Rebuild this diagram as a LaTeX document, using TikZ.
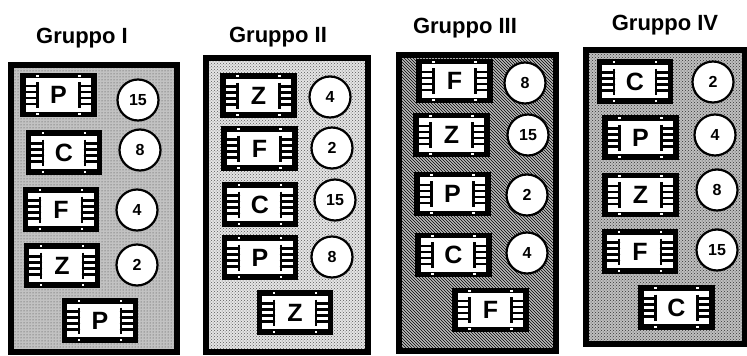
\documentclass[tikz,border=0pt]{standalone}
\usepackage{fontspec}
\newfontfamily\hv{Liberation Sans}
\usetikzlibrary{patterns}
\tikzset{
 chip/.style={rectangle, draw=black, line width=5.5pt, fill=white,
  minimum width=71pt, minimum height=39pt, inner sep=0pt,
  font=\hv\bfseries\fontsize{25}{25}\selectfont,
  path picture={
   \foreach \s in {-1,1}{
     \draw[line width=2.2pt] ([xshift=\s*21pt, yshift=13pt]path picture bounding box.center) -- ++(0pt,-26pt);
     \foreach \yy in {-9,-3,3,9}
       \draw[line width=2.4pt,line cap=round] ([xshift=\s*21pt, yshift=\yy pt]path picture bounding box.center) -- ++(\s*15pt,0pt);
   }
  }},
 num/.style={circle, draw=black, line width=2.2pt, fill=white, minimum size=41pt,
  inner sep=0pt, font=\hv\bfseries\fontsize{16}{16}\selectfont},
 panel/.style={draw=black, line width=6.5pt},
 title/.style={font=\hv\bfseries\fontsize{22}{22}\selectfont, anchor=base},
 pin/.style={fill=white, draw=none}
}
\newcommand\chippins[1]{%
  \foreach \s in {-1,1}{
    \fill[pin] ([xshift=\s*21pt-1.2pt, yshift=-1.8pt]#1.north) rectangle ++(2.4pt,-2pt);
    \fill[pin] ([xshift=\s*21pt-1.2pt, yshift=1.8pt]#1.south) rectangle ++(2.4pt,2pt);
  }}
\begin{document}
\begin{tikzpicture}[x=1pt,y=-1pt]
\useasboundingbox (0,0) rectangle (747,356);
% titles
\node[title] (t1) at (82,43) {Gruppo I};
\node[title] (t2) at (278,42) {Gruppo II};
\node[title] (t3) at (465,33) {Gruppo III};
\node[title] (t4) at (665,30) {Gruppo IV};
% panels
\draw[panel, preaction={fill=gray!48}, pattern=dots, pattern color=gray!50!black] (11,65) rectangle (177,352);
\draw[panel, preaction={fill=gray!20}, pattern=crosshatch dots, pattern color=gray!70!black] (206,58) rectangle (368,352);
\draw[panel, preaction={fill=gray!55}, pattern=north west lines, pattern color=black] (399,55) rectangle (556,351);
\draw[panel, preaction={fill=gray!50}, pattern=crosshatch dots, pattern color=black!80] (586,50) rectangle (745,344);
% Gruppo I
\node[chip] (a1) at (58.5,95) {P};
\node[chip] (a2) at (64,152.5) {C};
\node[chip] (a3) at (61,209.5) {F};
\node[chip] (a4) at (62,265.5) {Z};
\node[chip] (a5) at (100,320.5) {P};
\node[num] (na1) at (138,100) {15};
\node[num] (na2) at (140,150) {8};
\node[num] (na3) at (137,210) {4};
\node[num] (na4) at (137,265) {2};
% Gruppo II
\node[chip] (b1) at (258.5,95.5) {Z};
\node[chip] (b2) at (259.5,148.5) {F};
\node[chip] (b3) at (260,204.5) {C};
\node[chip] (b4) at (260,257.5) {P};
\node[chip] (b5) at (295,312.5) {Z};
\node[num] (nb1) at (330,97) {4};
\node[num] (nb2) at (332,148) {2};
\node[num] (nb3) at (335,200) {15};
\node[num] (nb4) at (332,257) {8};
% Gruppo III
\node[chip] (c1) at (454.5,81) {F};
\node[chip] (c2) at (451.5,135) {Z};
\node[chip] (c3) at (452.5,194) {P};
\node[chip] (c4) at (453.5,255) {C};
\node[chip] (c5) at (490.5,310) {F};
\node[num] (nc1) at (525,83) {8};
\node[num] (nc2) at (528,135) {15};
\node[num] (nc3) at (527,195) {2};
\node[num] (nc4) at (527,253) {4};
% Gruppo IV
\node[chip] (d1) at (635,81.5) {C};
\node[chip] (d2) at (640.5,137.5) {P};
\node[chip] (d3) at (640.5,195) {Z};
\node[chip] (d4) at (640,251.5) {F};
\node[chip] (d5) at (676.5,307.5) {C};
\node[num] (nd1) at (713,82) {2};
\node[num] (nd2) at (715,135) {4};
\node[num] (nd3) at (717,190) {8};
\node[num] (nd4) at (717,250) {15};
% pins
\foreach \c in {a1,a2,a3,a4,a5,b1,b2,b3,b4,b5,c1,c2,c3,c4,c5,d1,d2,d3,d4,d5}{\chippins{\c}}
\end{tikzpicture}
\end{document}
